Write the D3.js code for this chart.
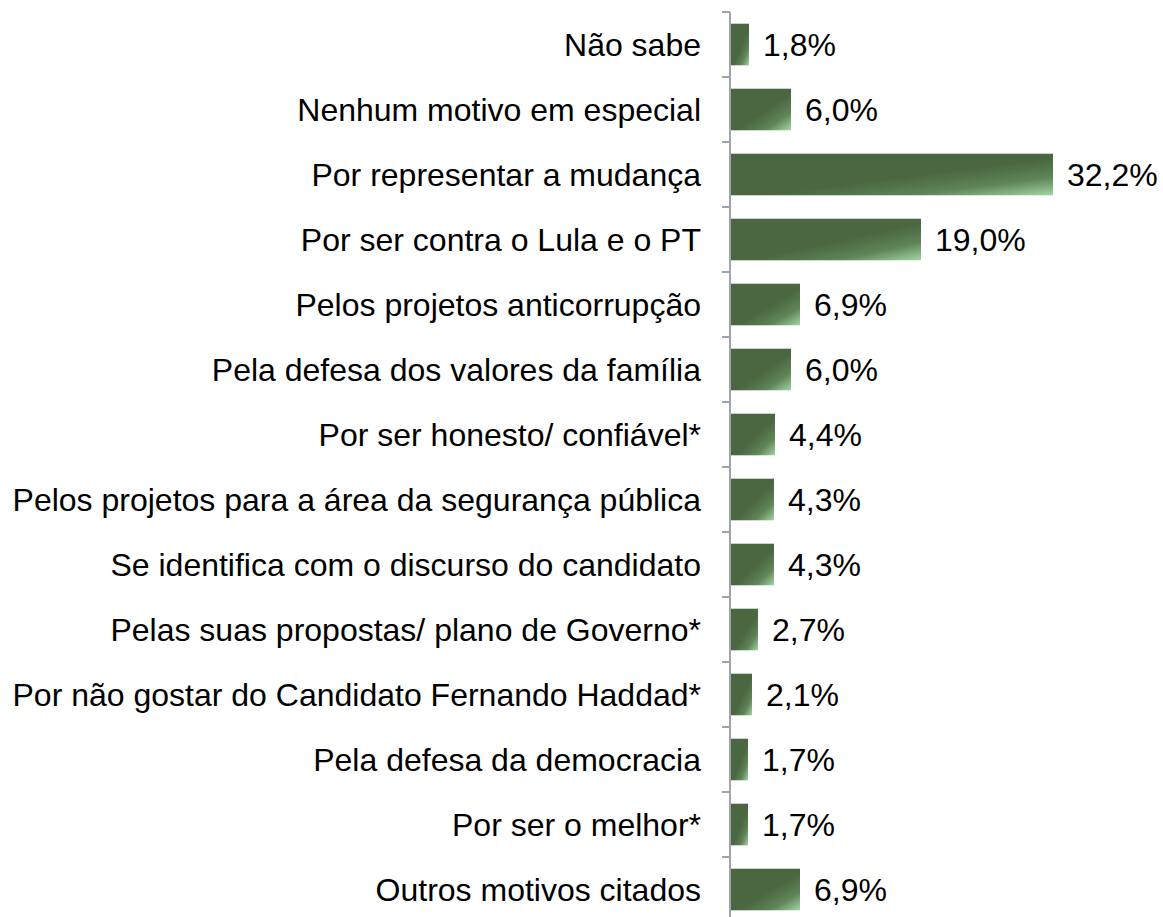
<!DOCTYPE html>
<html><head><meta charset="utf-8">
<script src="https://cdn.jsdelivr.net/npm/d3@7"></script>
<style>html,body{margin:0;padding:0;background:#fff}</style>
</head><body>
<svg id="c" width="1163" height="917"></svg>
<script>
const categories = [
  "Não sabe",
  "Nenhum motivo em especial",
  "Por representar a mudança",
  "Por ser contra o Lula e o PT",
  "Pelos projetos anticorrupção",
  "Pela defesa dos valores da família",
  "Por ser honesto/ confiável*",
  "Pelos projetos para a área da segurança pública",
  "Se identifica com o discurso do candidato",
  "Pelas suas propostas/ plano de Governo*",
  "Por não gostar do Candidato Fernando Haddad*",
  "Pela defesa da democracia",
  "Por ser o melhor*",
  "Outros motivos citados"
];
const values = [1.8, 6.0, 32.2, 19.0, 6.9, 6.0, 4.4, 4.3, 4.3, 2.7, 2.1, 1.7, 1.7, 6.9];
const valueLabels = ["1,8%","6,0%","32,2%","19,0%","6,9%","6,0%","4,4%","4,3%","4,3%","2,7%","2,1%","1,7%","1,7%","6,9%"];

const svg = d3.select("#c");
const x0 = 730;
const x = d3.scaleLinear().domain([0, 10]).range([x0, x0 + 100]);
const y = d3.scaleBand().domain(categories).range([12, 922]).paddingInner(0.36).paddingOuter(0.18);

const defs = svg.append("defs");
const g = defs.append("linearGradient").attr("id","bg")
  .attr("x1",0).attr("y1",0).attr("x2",1).attr("y2",1);
g.append("stop").attr("offset","0").attr("stop-color","#4a6741");
g.append("stop").attr("offset","0.55").attr("stop-color","#4a6741");
g.append("stop").attr("offset","0.78").attr("stop-color","#5f8457");
g.append("stop").attr("offset","1").attr("stop-color","#a3d5a5");

svg.selectAll("rect.bar").data(values).enter().append("rect")
  .attr("class","bar")
  .attr("x", x(0) + 1)
  .attr("y", (d,i) => y(categories[i]))
  .attr("width", d => x(d) - x(0))
  .attr("height", y.bandwidth())
  .attr("fill","url(#bg)");

// axis
const axisG = svg.append("g");
axisG.append("line").attr("x1",x0).attr("x2",x0).attr("y1",12).attr("y2",922)
  .attr("stroke","#a0a4ac").attr("stroke-width",2);
const step = y.step();
const ticks = d3.range(categories.length + 1).map(i => 12 + i * step);
axisG.selectAll("line.t").data(ticks).enter().append("line").attr("class","t")
  .attr("x1",x0-8).attr("x2",x0).attr("y1",d=>d).attr("y2",d=>d)
  .attr("stroke","#a0a4ac").attr("stroke-width",2);

svg.selectAll("text.cat").data(categories).enter().append("text")
  .attr("class","cat")
  .attr("x", 701)
  .attr("y", d => y(d) + y.bandwidth()/2)
  .attr("dy","0.35em")
  .attr("text-anchor","end")
  .attr("font-family","Liberation Sans, Arial, sans-serif")
  .attr("font-size",32)
  .attr("fill","#000")
  .text(d => d);

svg.selectAll("text.val").data(values).enter().append("text")
  .attr("class","val")
  .attr("x", d => x(d) + 15)
  .attr("y", (d,i) => y(categories[i]) + y.bandwidth()/2)
  .attr("dy","0.35em")
  .attr("font-family","Liberation Sans, Arial, sans-serif")
  .attr("font-size",32)
  .attr("fill","#000")
  .text((d,i) => valueLabels[i]);
</script>
</body></html>
